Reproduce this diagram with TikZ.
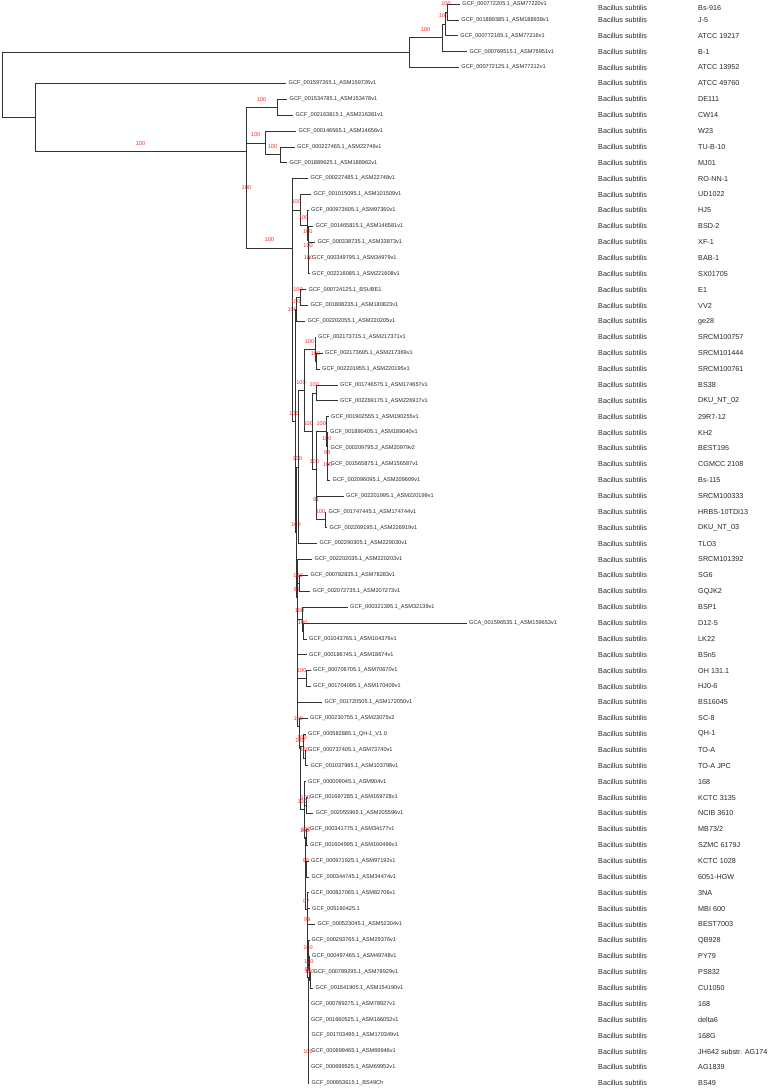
\documentclass[tikz,border=0pt]{standalone}
\usepackage{fontspec}
\setmainfont{Liberation Sans}
\tikzset{branch/.style = {draw = black!80,
                          line width = 0.6pt},
         boot/.style = {pos = .75,
                        yshift = 8pt,
                        inner sep = 0pt,
                        text = red!85,
                        font = \fontsize{5.6}{6}\selectfont},
         acc/.style = {anchor = west,
                       inner xsep = 2.5pt,
                       inner ysep = 0.5pt,
                       text = black!85,
                       font = \fontsize{5.6}{6}\selectfont},
         species/.style = {anchor = west,
                           inner sep = 0pt,
                           text = black!85,
                           font = \fontsize{7.2}{8}\selectfont},
         strain/.style = {species}}

\begin{document}
\begin{tikzpicture}[x = 1pt, y = -15.87pt]
	\useasboundingbox (0,0.748) rectangle (772,69.43);
	% inner nodes (x in pt, y in rows)
	\coordinate (root) at (2,6.12);
	\coordinate (T1) at (409,4.0625);
	\coordinate (T2) at (442,3.125);
	\coordinate (T3) at (445,2.25);
	\coordinate (T4) at (447,1.5);
	\coordinate (N6) at (35,8.14);
	\coordinate (P) at (246,10.28);
	\coordinate (C1) at (277,7.5);
	\coordinate (Q) at (246.7,13.07);
	\coordinate (C2) at (265,9.75);
	\coordinate (C3) at (280,10.5);
	\coordinate (R) at (292,16.37);
	\coordinate (Rb) at (292.5,20.75);
	\coordinate (Sa) at (300,13.97);
	\coordinate (Sb) at (307.5,14.93);
	\coordinate (Sc) at (308,15.87);
	\coordinate (Sd) at (308.3,16.75);
	\coordinate (Se) at (308.6,17.5);
	\coordinate (Rc) at (295.5,27.28);
	\coordinate (Ev2) at (296,20.25);
	\coordinate (Ev1) at (300,19.5);
	\coordinate (Rd) at (296.5,34.3);
	\coordinate (Re) at (298,30.17);
	\coordinate (A3) at (304,25.34);
	\coordinate (A1) at (315,22.75);
	\coordinate (A2) at (316,23.5);
	\coordinate (A6) at (312.5,27.93);
	\coordinate (A5) at (316,25.5);
	\coordinate (D2) at (316,30.34);
	\coordinate (B1) at (326.5,27.94);
	\coordinate (B2) at (327,28.875);
	\coordinate (B3) at (327.3,29.75);
	\coordinate (B4) at (327.6,30.5);
	\coordinate (E1) at (316.3,32.75);
	\coordinate (E2) at (325,33.5);
	\coordinate (Rf) at (297,38.4);
	\coordinate (F1) at (299,37.5);
	\coordinate (G1) at (302,39.75);
	\coordinate (G2) at (303.5,40.5);
	\coordinate (H2) at (306.5,43.5);
	\coordinate (Rg) at (299.5,46.5);
	\coordinate (Rh) at (300.5,47.9);
	\coordinate (J2) at (303.5,47.75);
	\coordinate (J1) at (305,48.5);
	\coordinate (M1) at (304,51.76);
	\coordinate (K1) at (306.7,51.5);
	\coordinate (M2) at (305.5,53.6);
	\coordinate (K2) at (306.5,53.5);
	\coordinate (K3) at (306.3,55.5);
	\coordinate (M4) at (307,58.07);
	\coordinate (M5) at (307.5,59.22);
	\coordinate (M7) at (308.5,60.97);
	\coordinate (M8) at (309,61.85);
	\coordinate (M9) at (310,62.5);
	\coordinate (Z) at (307.8,62.33);
	\coordinate (K7) at (308.2,67.5);

	% tip labels
	\node[acc] (l1) at (459.7,1) {GCF\_000772205.1\_ASM77220v1};
	\node[acc] (l2) at (458.7,2) {GCF\_001889385.1\_ASM188938v1};
	\node[acc] (l3) at (457.7,3) {GCF\_000772165.1\_ASM77216v1};
	\node[acc] (l4) at (467,4) {GCF\_000769515.1\_ASM76951v1};
	\node[acc] (l5) at (458.7,5) {GCF\_000772125.1\_ASM77212v1};
	\node[acc] (l6) at (286,6) {GCF\_001597265.1\_ASM159726v1};
	\node[acc] (l7) at (287,7) {GCF\_001534785.1\_ASM153478v1};
	\node[acc] (l8) at (293,8) {GCF\_002163815.1\_ASM216381v1};
	\node[acc] (l9) at (296,9) {GCF\_000146565.1\_ASM14656v1};
	\node[acc] (l10) at (294.5,10) {GCF\_000227465.1\_ASM22746v1};
	\node[acc] (l11) at (287,11) {GCF\_001889625.1\_ASM188962v1};
	\node[acc] (l12) at (308,12) {GCF\_000227485.1\_ASM22748v1};
	\node[acc] (l13) at (311,13) {GCF\_001015095.1\_ASM101509v1};
	\node[acc] (l14) at (308.5,14) {GCF\_000973605.1\_ASM97360v1};
	\node[acc] (l15) at (313,15) {GCF\_001465815.1\_ASM146581v1};
	\node[acc] (l16) at (315,16) {GCF\_000338735.1\_ASM33873v1};
	\node[acc] (l17) at (309.5,17) {GCF\_000349795.1\_ASM34979v1};
	\node[acc] (l18) at (309.5,18) {GCF\_002216085.1\_ASM221608v1};
	\node[acc] (l19) at (306,19) {GCF\_000724125.1\_BSUBE1};
	\node[acc] (l20) at (308,20) {GCF\_001808235.1\_ASM180823v1};
	\node[acc] (l21) at (305,21) {GCF\_002202055.1\_ASM220205v1};
	\node[acc] (l22) at (315.5,22) {GCF\_002173715.1\_ASM217371v1};
	\node[acc] (l23) at (322.5,23) {GCF\_002173695.1\_ASM217369v1};
	\node[acc] (l24) at (319.5,24) {GCF\_002201955.1\_ASM220195v1};
	\node[acc] (l25) at (337.5,25) {GCF\_001746575.1\_ASM174657v1};
	\node[acc] (l26) at (337.5,26) {GCF\_002269175.1\_ASM226917v1};
	\node[acc] (l27) at (328.5,27) {GCF\_001902555.1\_ASM190255v1};
	\node[acc] (l28) at (327.5,28) {GCF\_001890405.1\_ASM189040v1};
	\node[acc] (l29) at (328,29) {GCF\_000209795.2\_ASM20979v2};
	\node[acc] (l30) at (328,30) {GCF\_001565875.1\_ASM156587v1};
	\node[acc] (l31) at (330,31) {GCF\_002096095.1\_ASM209609v1};
	\node[acc] (l32) at (343.5,32) {GCF\_002201995.1\_ASM220199v1};
	\node[acc] (l33) at (326,33) {GCF\_001747445.1\_ASM174744v1};
	\node[acc] (l34) at (327,34) {GCF\_002269195.1\_ASM226919v1};
	\node[acc] (l35) at (317,35) {GCF\_002290305.1\_ASM229030v1};
	\node[acc] (l36) at (312,36) {GCF\_002202035.1\_ASM220203v1};
	\node[acc] (l37) at (308,37) {GCF\_000782835.1\_ASM78283v1};
	\node[acc] (l38) at (310,38) {GCF\_002072735.1\_ASM207273v1};
	\node[acc] (l39) at (347.5,39) {GCF\_000321395.1\_ASM32139v1};
	\node[acc] (l40) at (466.5,40) {GCA\_001596535.1\_ASM159653v1};
	\node[acc] (l41) at (306.5,41) {GCF\_001043765.1\_ASM104376v1};
	\node[acc] (l42) at (306.5,42) {GCF\_000186745.1\_ASM18674v1};
	\node[acc] (l43) at (310.5,43) {GCF\_000706705.1\_ASM70670v1};
	\node[acc] (l44) at (310.5,44) {GCF\_001704095.1\_ASM170409v1};
	\node[acc] (l45) at (322,45) {GCF\_001720505.1\_ASM172050v1};
	\node[acc] (l46) at (307.5,46) {GCF\_000230755.1\_ASM23075v2};
	\node[acc] (l47) at (305.5,47) {GCF\_000582885.1\_QH-1\_V1.0};
	\node[acc] (l48) at (305.5,48) {GCF\_000737405.1\_ASM73740v1};
	\node[acc] (l49) at (308,49) {GCF\_001037985.1\_ASM103798v1};
	\node[acc] (l50) at (305.5,50) {GCF\_000009045.1\_ASM904v1};
	\node[acc] (l51) at (307.5,51) {GCF\_001697285.1\_ASM169728v1};
	\node[acc] (l52) at (313,52) {GCF\_002055965.1\_ASM205596v1};
	\node[acc] (l53) at (307.5,53) {GCF\_000341775.1\_ASM34177v1};
	\node[acc] (l54) at (307.5,54) {GCF\_001604995.1\_ASM160499v1};
	\node[acc] (l55) at (308.5,55) {GCF\_000971925.1\_ASM97192v1};
	\node[acc] (l56) at (309,56) {GCF\_000344745.1\_ASM34474v1};
	\node[acc] (l57) at (308.5,57) {GCF\_000827065.1\_ASM82706v1};
	\node[acc] (l58) at (309.5,58) {GCF\_005160425.1};
	\node[acc] (l59) at (315,59) {GCF\_000523045.1\_ASM52304v1};
	\node[acc] (l60) at (309,60) {GCF\_000293765.1\_ASM29376v1};
	\node[acc] (l61) at (309.5,61) {GCF\_000497465.1\_ASM49748v1};
	\node[acc] (l62) at (311,62) {GCF\_000789295.1\_ASM78929v1};
	\node[acc] (l63) at (313,63) {GCF\_001541905.1\_ASM154190v1};
	\node[acc] (l64) at (308.3,64) {GCF\_000789275.1\_ASM78927v1};
	\node[acc] (l65) at (308.3,65) {GCF\_001660525.1\_ASM166052v1};
	\node[acc] (l66) at (309,66) {GCF\_001703495.1\_ASM170349v1};
	\node[acc] (l67) at (308.7,67) {GCF\_000699465.1\_ASM69946v1};
	\node[acc] (l68) at (308.3,68) {GCF\_000699525.1\_ASM69952v1};
	\node[acc] (l69) at (309,69) {GCF\_000953615.1\_BS49Ch};

	% species column
	\node[species] (sp1) at (598,1.25) {Bacillus subtilis};
	\node[species] (sp2) at (598,2) {Bacillus subtilis};
	\node[species] (sp3) at (598,3) {Bacillus subtilis};
	\node[species] (sp4) at (598,4) {Bacillus subtilis};
	\node[species] (sp5) at (598,5) {Bacillus subtilis};
	\node[species] (sp6) at (598,6) {Bacillus subtilis};
	\node[species] (sp7) at (598,7) {Bacillus subtilis};
	\node[species] (sp8) at (598,8) {Bacillus subtilis};
	\node[species] (sp9) at (598,9) {Bacillus subtilis};
	\node[species] (sp10) at (598,10) {Bacillus subtilis};
	\node[species] (sp11) at (598,11) {Bacillus subtilis};
	\node[species] (sp12) at (598,12) {Bacillus subtilis};
	\node[species] (sp13) at (598,13) {Bacillus subtilis};
	\node[species] (sp14) at (598,14) {Bacillus subtilis};
	\node[species] (sp15) at (598,15) {Bacillus subtilis};
	\node[species] (sp16) at (598,16) {Bacillus subtilis};
	\node[species] (sp17) at (598,17) {Bacillus subtilis};
	\node[species] (sp18) at (598,18) {Bacillus subtilis};
	\node[species] (sp19) at (598,19) {Bacillus subtilis};
	\node[species] (sp20) at (598,20) {Bacillus subtilis};
	\node[species] (sp21) at (598,21) {Bacillus subtilis};
	\node[species] (sp22) at (598,22) {Bacillus subtilis};
	\node[species] (sp23) at (598,23) {Bacillus subtilis};
	\node[species] (sp24) at (598,24) {Bacillus subtilis};
	\node[species] (sp25) at (598,25) {Bacillus subtilis};
	\node[species] (sp26) at (598,26) {Bacillus subtilis};
	\node[species] (sp27) at (598,27) {Bacillus subtilis};
	\node[species] (sp28) at (598,28) {Bacillus subtilis};
	\node[species] (sp29) at (598,29) {Bacillus subtilis};
	\node[species] (sp30) at (598,30) {Bacillus subtilis};
	\node[species] (sp31) at (598,31) {Bacillus subtilis};
	\node[species] (sp32) at (598,32) {Bacillus subtilis};
	\node[species] (sp33) at (598,33) {Bacillus subtilis};
	\node[species] (sp34) at (598,34) {Bacillus subtilis};
	\node[species] (sp35) at (598,35) {Bacillus subtilis};
	\node[species] (sp36) at (598,36) {Bacillus subtilis};
	\node[species] (sp37) at (598,37) {Bacillus subtilis};
	\node[species] (sp38) at (598,38) {Bacillus subtilis};
	\node[species] (sp39) at (598,39) {Bacillus subtilis};
	\node[species] (sp40) at (598,40) {Bacillus subtilis};
	\node[species] (sp41) at (598,41) {Bacillus subtilis};
	\node[species] (sp42) at (598,42) {Bacillus subtilis};
	\node[species] (sp43) at (598,43) {Bacillus subtilis};
	\node[species] (sp44) at (598,44) {Bacillus subtilis};
	\node[species] (sp45) at (598,45) {Bacillus subtilis};
	\node[species] (sp46) at (598,46) {Bacillus subtilis};
	\node[species] (sp47) at (598,47) {Bacillus subtilis};
	\node[species] (sp48) at (598,48) {Bacillus subtilis};
	\node[species] (sp49) at (598,49) {Bacillus subtilis};
	\node[species] (sp50) at (598,50) {Bacillus subtilis};
	\node[species] (sp51) at (598,51) {Bacillus subtilis};
	\node[species] (sp52) at (598,52) {Bacillus subtilis};
	\node[species] (sp53) at (598,53) {Bacillus subtilis};
	\node[species] (sp54) at (598,54) {Bacillus subtilis};
	\node[species] (sp55) at (598,55) {Bacillus subtilis};
	\node[species] (sp56) at (598,56) {Bacillus subtilis};
	\node[species] (sp57) at (598,57) {Bacillus subtilis};
	\node[species] (sp58) at (598,58) {Bacillus subtilis};
	\node[species] (sp59) at (598,59) {Bacillus subtilis};
	\node[species] (sp60) at (598,60) {Bacillus subtilis};
	\node[species] (sp61) at (598,61) {Bacillus subtilis};
	\node[species] (sp62) at (598,62) {Bacillus subtilis};
	\node[species] (sp63) at (598,63) {Bacillus subtilis};
	\node[species] (sp64) at (598,64) {Bacillus subtilis};
	\node[species] (sp65) at (598,65) {Bacillus subtilis};
	\node[species] (sp66) at (598,66) {Bacillus subtilis};
	\node[species] (sp67) at (598,67) {Bacillus subtilis};
	\node[species] (sp68) at (598,68) {Bacillus subtilis};
	\node[species] (sp69) at (598,69) {Bacillus subtilis};

	% strain column
	\node[strain] (st1) at (698,1.25) {Bs-916};
	\node[strain] (st2) at (698,2) {J-5};
	\node[strain] (st3) at (698,3) {ATCC 19217};
	\node[strain] (st4) at (698,4) {B-1};
	\node[strain] (st5) at (698,5) {ATCC 13952};
	\node[strain] (st6) at (698,6) {ATCC 49760};
	\node[strain] (st7) at (698,7) {DE111};
	\node[strain] (st8) at (698,8) {CW14};
	\node[strain] (st9) at (698,9) {W23};
	\node[strain] (st10) at (698,10) {TU-B-10};
	\node[strain] (st11) at (698,11) {MJ01};
	\node[strain] (st12) at (698,12) {RO-NN-1};
	\node[strain] (st13) at (698,13) {UD1022};
	\node[strain] (st14) at (698,14) {HJ5};
	\node[strain] (st15) at (698,15) {BSD-2};
	\node[strain] (st16) at (698,16) {XF-1};
	\node[strain] (st17) at (698,17) {BAB-1};
	\node[strain] (st18) at (698,18) {SX01705};
	\node[strain] (st19) at (698,19) {E1};
	\node[strain] (st20) at (698,20) {VV2};
	\node[strain] (st21) at (698,21) {ge28};
	\node[strain] (st22) at (698,22) {SRCM100757};
	\node[strain] (st23) at (698,23) {SRCM101444};
	\node[strain] (st24) at (698,24) {SRCM100761};
	\node[strain] (st25) at (698,25) {BS38};
	\node[strain] (st26) at (698,26) {DKU\_NT\_02};
	\node[strain] (st27) at (698,27) {29R7-12};
	\node[strain] (st28) at (698,28) {KH2};
	\node[strain] (st29) at (698,29) {BEST195};
	\node[strain] (st30) at (698,30) {CGMCC 2108};
	\node[strain] (st31) at (698,31) {Bs-115};
	\node[strain] (st32) at (698,32) {SRCM100333};
	\node[strain] (st33) at (698,33) {HRBS-10TDI13};
	\node[strain] (st34) at (698,34) {DKU\_NT\_03};
	\node[strain] (st35) at (698,35) {TLO3};
	\node[strain] (st36) at (698,36) {SRCM101392};
	\node[strain] (st37) at (698,37) {SG6};
	\node[strain] (st38) at (698,38) {GQJK2};
	\node[strain] (st39) at (698,39) {BSP1};
	\node[strain] (st40) at (698,40) {D12-5};
	\node[strain] (st41) at (698,41) {LK22};
	\node[strain] (st42) at (698,42) {BSn5};
	\node[strain] (st43) at (698,43) {OH 131.1};
	\node[strain] (st44) at (698,44) {HJ0-6};
	\node[strain] (st45) at (698,45) {BS16045};
	\node[strain] (st46) at (698,46) {SC-8};
	\node[strain] (st47) at (698,47) {QH-1};
	\node[strain] (st48) at (698,48) {TO-A};
	\node[strain] (st49) at (698,49) {TO-A JPC};
	\node[strain] (st50) at (698,50) {168};
	\node[strain] (st51) at (698,51) {KCTC 3135};
	\node[strain] (st52) at (698,52) {NCIB 3610};
	\node[strain] (st53) at (698,53) {MB73/2};
	\node[strain] (st54) at (698,54) {SZMC 6179J};
	\node[strain] (st55) at (698,55) {KCTC 1028};
	\node[strain] (st56) at (698,56) {6051-HGW};
	\node[strain] (st57) at (698,57) {3NA};
	\node[strain] (st58) at (698,58) {MBI 600};
	\node[strain] (st59) at (698,59) {BEST7003};
	\node[strain] (st60) at (698,60) {QB928};
	\node[strain] (st61) at (698,61) {PY79};
	\node[strain] (st62) at (698,62) {PS832};
	\node[strain] (st63) at (698,63) {CU1050};
	\node[strain] (st64) at (698,64) {168};
	\node[strain] (st65) at (698,65) {delta6};
	\node[strain] (st66) at (698,66) {168G};
	\node[strain] (st67) at (698,67) {JH642 substr. AG174};
	\node[strain] (st68) at (698,68) {AG1839};
	\node[strain] (st69) at (698,69) {BS49};

	% branches between inner nodes, with bootstrap values
	\draw[branch] (root) |- (T1);
	\draw[branch] (T1) |- (T2) node[boot] {100};
	\draw[branch] (T2) |- (T3) node[boot] {100};
	\draw[branch] (T3) |- (T4) node[boot] {100};
	\draw[branch] (root) |- (N6);
	\draw[branch] (N6) |- (P) node[boot] {100};
	\draw[branch] (P) |- (C1) node[boot] {100};
	\draw[branch] (P) |- (Q) node[boot] {100};
	\draw[branch] (Q) |- (C2) node[boot] {100};
	\draw[branch] (C2) |- (C3) node[boot] {100};
	\draw[branch] (Q) |- (R) node[boot] {100};
	\draw[branch] (R) |- (Rb) node[boot] {100};
	\draw[branch] (Rb) |- (Sa) node[boot] {100};
	\draw[branch] (Sa) |- (Sb) node[boot] {100};
	\draw[branch] (Sb) |- (Sc) node[boot] {100};
	\draw[branch] (Sc) |- (Sd) node[boot] {100};
	\draw[branch] (Sd) |- (Se) node[boot] {100};
	\draw[branch] (Rb) |- (Rc) node[boot] {100};
	\draw[branch] (Rc) |- (Ev2) node[boot] {100};
	\draw[branch] (Ev2) |- (Ev1) node[boot] {100};
	\draw[branch] (Rc) |- (Rd) node[boot] {100};
	\draw[branch] (Rd) |- (Re) node[boot] {100};
	\draw[branch] (Re) |- (A3) node[boot] {100};
	\draw[branch] (A3) |- (A1) node[boot] {100};
	\draw[branch] (A1) |- (A2) node[boot] {100};
	\draw[branch] (A3) |- (A6) node[boot] {100};
	\draw[branch] (A6) |- (A5) node[boot] {100};
	\draw[branch] (A6) |- (D2) node[boot] {100};
	\draw[branch] (D2) |- (B1) node[boot] {100};
	\draw[branch] (B1) |- (B2) node[boot] {100};
	\draw[branch] (B2) |- (B3) node[boot] {94};
	\draw[branch] (B3) |- (B4) node[boot] {100};
	\draw[branch] (D2) |- (E1) node[boot] {91};
	\draw[branch] (E1) |- (E2) node[boot] {100};
	\draw[branch] (Rd) |- (Rf) node[boot] {98};
	\draw[branch] (Rf) |- (F1) node[boot] {100};
	\draw[branch] (Rf) |- (G1) node[boot] {100};
	\draw[branch] (G1) |- (G2) node[boot] {100};
	\draw[branch] (Rf) |- (H2) node[boot] {100};
	\draw[branch] (Rf) |- (Rg) node[boot] {100};
	\draw[branch] (Rg) |- (Rh) node[boot] {100};
	\draw[branch] (Rh) |- (J2) node[boot] {100};
	\draw[branch] (J2) |- (J1) node[boot] {100};
	\draw[branch] (Rh) |- (M1) node[boot] {100};
	\draw[branch] (M1) |- (K1) node[boot] {100};
	\draw[branch] (M1) |- (M2) node[boot] {100};
	\draw[branch] (M2) |- (K2) node[boot] {100};
	\draw[branch] (M2) |- (K3) node[boot] {99};
	\draw[branch] (M2) |- (M4) node[boot] {97};
	\draw[branch] (M4) |- (M5) node[boot] {99};
	\draw[branch] (M5) |- (M7) node[boot] {100};
	\draw[branch] (M7) |- (M8) node[boot] {100};
	\draw[branch] (M8) |- (M9) node[boot] {100};
	\draw[branch] (M5) |- (Z) node[boot] {99};
	\draw[branch] (Z) |- (K7) node[boot] {100};

	% branches to tips
	\draw[branch] (T4) |- (l1.west);
	\draw[branch] (T4) |- (l2.west);
	\draw[branch] (T3) |- (l3.west);
	\draw[branch] (T2) |- (l4.west);
	\draw[branch] (T1) |- (l5.west);
	\draw[branch] (N6) |- (l6.west);
	\draw[branch] (C1) |- (l7.west);
	\draw[branch] (C1) |- (l8.west);
	\draw[branch] (C2) |- (l9.west);
	\draw[branch] (C3) |- (l10.west);
	\draw[branch] (C3) |- (l11.west);
	\draw[branch] (R) |- (l12.west);
	\draw[branch] (Sa) |- (l13.west);
	\draw[branch] (Sb) |- (l14.west);
	\draw[branch] (Sc) |- (l15.west);
	\draw[branch] (Sd) |- (l16.west);
	\draw[branch] (Se) |- (l17.west);
	\draw[branch] (Se) |- (l18.west);
	\draw[branch] (Ev1) |- (l19.west);
	\draw[branch] (Ev1) |- (l20.west);
	\draw[branch] (Ev2) |- (l21.west);
	\draw[branch] (A1) |- (l22.west);
	\draw[branch] (A2) |- (l23.west);
	\draw[branch] (A2) |- (l24.west);
	\draw[branch] (A5) |- (l25.west);
	\draw[branch] (A5) |- (l26.west);
	\draw[branch] (B1) |- (l27.west);
	\draw[branch] (B2) |- (l28.west);
	\draw[branch] (B3) |- (l29.west);
	\draw[branch] (B4) |- (l30.west);
	\draw[branch] (B4) |- (l31.west);
	\draw[branch] (E1) |- (l32.west);
	\draw[branch] (E2) |- (l33.west);
	\draw[branch] (E2) |- (l34.west);
	\draw[branch] (Re) |- (l35.west);
	\draw[branch] (Rf) |- (l36.west);
	\draw[branch] (F1) |- (l37.west);
	\draw[branch] (F1) |- (l38.west);
	\draw[branch] (G1) |- (l39.west);
	\draw[branch] (G2) |- (l40.west);
	\draw[branch] (G2) |- (l41.west);
	\draw[branch] (Rf) |- (l42.west);
	\draw[branch] (H2) |- (l43.west);
	\draw[branch] (H2) |- (l44.west);
	\draw[branch] (Rf) |- (l45.west);
	\draw[branch] (Rg) |- (l46.west);
	\draw[branch] (J2) |- (l47.west);
	\draw[branch] (J1) |- (l48.west);
	\draw[branch] (J1) |- (l49.west);
	\draw[branch] (M1) |- (l50.west);
	\draw[branch] (K1) |- (l51.west);
	\draw[branch] (K1) |- (l52.west);
	\draw[branch] (K2) |- (l53.west);
	\draw[branch] (K2) |- (l54.west);
	\draw[branch] (K3) |- (l55.west);
	\draw[branch] (K3) |- (l56.west);
	\draw[branch] (M4) |- (l57.west);
	\draw[branch] (M4) |- (l58.west);
	\draw[branch] (M5) |- (l59.west);
	\draw[branch] (M7) |- (l60.west);
	\draw[branch] (M8) |- (l61.west);
	\draw[branch] (M9) |- (l62.west);
	\draw[branch] (M9) |- (l63.west);
	\draw[branch] (Z) |- (l64.west);
	\draw[branch] (Z) |- (l65.west);
	\draw[branch] (Z) |- (l66.west);
	\draw[branch] (K7) |- (l67.west);
	\draw[branch] (K7) |- (l68.west);
	\draw[branch] (Z) |- (l69.west);
\end{tikzpicture}
\end{document}
